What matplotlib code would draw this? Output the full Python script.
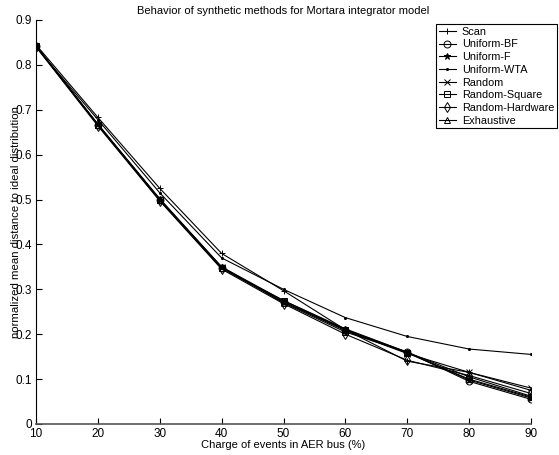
import numpy as np
import matplotlib
matplotlib.use('Agg')
import matplotlib.pyplot as plt

plt.rcParams['font.family'] = ['Liberation Sans', 'DejaVu Sans']

charge = [10, 20, 30, 40, 50, 60, 70, 80, 90]

scan = [0.845, 0.683, 0.525, 0.380, 0.297, 0.210, 0.140, 0.115, 0.075]
uniform_bf = [0.842, 0.666, 0.500, 0.348, 0.272, 0.210, 0.160, 0.095, 0.055]
uniform_f = [0.842, 0.668, 0.500, 0.350, 0.275, 0.212, 0.160, 0.098, 0.058]
uniform_wta = [0.840, 0.678, 0.515, 0.370, 0.300, 0.237, 0.195, 0.167, 0.155]
random_ = [0.842, 0.668, 0.502, 0.350, 0.272, 0.208, 0.157, 0.115, 0.080]
random_square = [0.842, 0.666, 0.498, 0.347, 0.275, 0.210, 0.158, 0.100, 0.060]
random_hw = [0.840, 0.664, 0.497, 0.345, 0.268, 0.200, 0.142, 0.108, 0.068]
exhaustive = [0.842, 0.667, 0.500, 0.348, 0.270, 0.205, 0.160, 0.105, 0.062]

series = [
    ('Scan', scan, '+', 'k'),
    ('Uniform-BF', uniform_bf, 'o', 'none'),
    ('Uniform-F', uniform_f, '*', 'k'),
    ('Uniform-WTA', uniform_wta, '.', 'k'),
    ('Random', random_, 'x', 'k'),
    ('Random-Square', random_square, 's', 'none'),
    ('Random-Hardware', random_hw, 'd', 'none'),
    ('Exhaustive', exhaustive, '^', 'none'),
]

fig = plt.figure(figsize=(5.59, 4.55), dpi=100)
ax = fig.add_axes([36/559, 31/455, 495/559, 404/455])

for name, vals, mk, fc in series:
    ms = 3 if mk == '.' else 5
    ax.plot(charge, vals, color='k', lw=0.8, marker=mk, markersize=ms,
            markerfacecolor=fc, markeredgecolor='k', markeredgewidth=0.7,
            label=name)

ax.set_xlim(10, 90)
ax.set_ylim(0, 0.9)
ax.set_xticks(np.arange(10, 91, 10))
ax.set_yticks(np.arange(0, 0.91, 0.1))
ax.set_yticklabels(['0'] + ['%.1f' % v for v in np.arange(0.1, 0.91, 0.1)])
ax.tick_params(direction='in', length=4, width=0.8, labelsize=8.5, pad=3)
ax.spines['top'].set_visible(False)
ax.spines['right'].set_visible(False)
ax.spines['left'].set_linewidth(0.8)
ax.spines['bottom'].set_linewidth(1.2)
ax.spines['bottom'].set_color('#555555')

ax.set_title('Behavior of synthetic methods for Mortara integrator model',
             fontsize=8, pad=4)
ax.set_xlabel('Charge of events in AER bus (%)', fontsize=8)
ax.xaxis.set_label_coords(0.5, -0.04)
ax.set_ylabel('normalized mean distance to ideal distribution', fontsize=8.2)
ax.yaxis.set_label_coords(-0.031, 0.5)

leg = ax.legend(loc='upper right', bbox_to_anchor=(557/559, 431/455),
                bbox_transform=fig.transFigure, numpoints=1, fontsize=7.8,
                frameon=True, fancybox=False, edgecolor='k', framealpha=1,
                handlelength=1.6, handletextpad=0.55, labelspacing=0.25,
                borderpad=0.25, borderaxespad=0)
leg.get_frame().set_linewidth(0.8)

fig.savefig('out.png', dpi=100)
